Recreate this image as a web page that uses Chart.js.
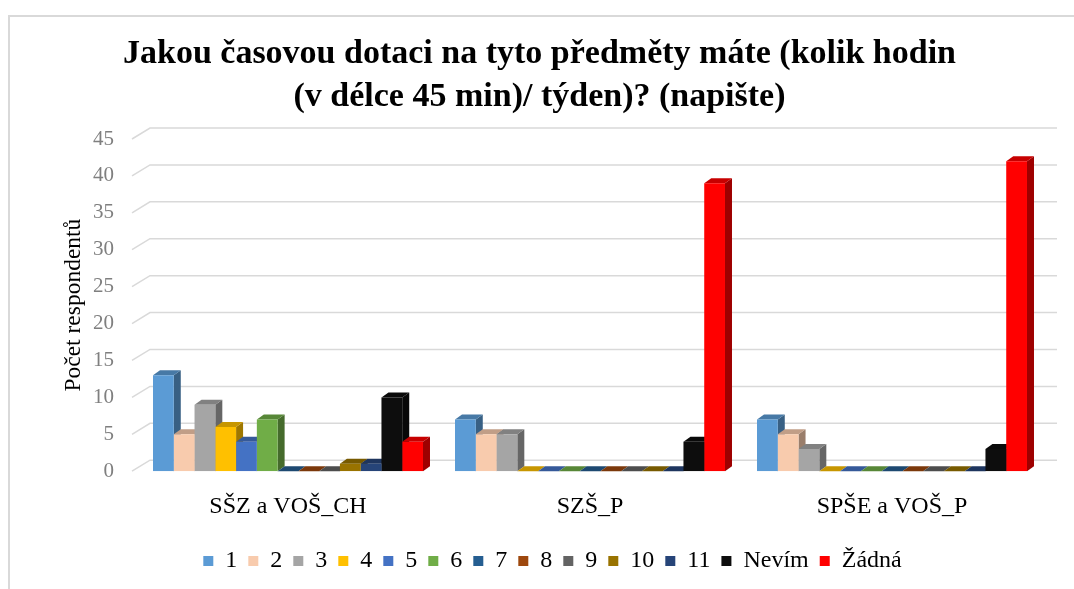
<!DOCTYPE html>
<html>
<head>
<meta charset="utf-8">
<script src="https://cdn.jsdelivr.net/npm/chart.js@4/dist/chart.umd.min.js"></script>
<style>
html,body{margin:0;padding:0;background:#fff;}
#wrap{width:1074px;height:589px;position:relative;}
</style>
</head>
<body>
<div id="wrap"><canvas id="c" width="1074" height="589"></canvas></div>
<script>
const categories = ['SŠZ a VOŠ_CH', 'SZŠ_P', 'SPŠE a VOŠ_P'];
const seriesNames = ['1','2','3','4','5','6','7','8','9','10','11','Nevím','Žádná'];
const s1 = [13, 7, 7];
const s2 = [5, 5, 5];
const s3 = [9, 5, 3];
const s4 = [6, 0, 0];
const s5 = [4, 0, 0];
const s6 = [7, 0, 0];
const s7 = [0, 0, 0];
const s8 = [0, 0, 0];
const s9 = [0, 0, 0];
const s10 = [1, 0, 0];
const s11 = [1, 0, 0];
const sNevim = [10, 4, 3];
const sZadna = [4, 39, 42];
const yTicks = [0, 5, 10, 15, 20, 25, 30, 35, 40, 45];
const titleLines = ['Jakou časovou dotaci na tyto předměty máte (kolik hodin', '(v délce 45 min)/ týden)? (napište)'];
const yTitle = 'Počet respondentů';

const seriesValues = [s1,s2,s3,s4,s5,s6,s7,s8,s9,s10,s11,sNevim,sZadna];
const colors = ['#5B9BD5','#F8CBAD','#A5A5A5','#FFC000','#4472C4','#70AD47','#255E91','#9E480E','#636363','#997300','#264478','#0D0D0D','#FF0000'];
const SERIF = '"Liberation Serif", "Times New Roman", serif';

function shade(hex, f){
  const n = parseInt(hex.slice(1),16);
  const r = Math.round(((n>>16)&255)*f), g = Math.round(((n>>8)&255)*f), b = Math.round((n&255)*f);
  return 'rgb('+r+','+g+','+b+')';
}

const BDX = 7, BDY = 5;     // bar depth
const WDX = 14, WDY = 11;   // back wall offset

const threeD = {
  id: 'threeD',
  afterLayout(chart){
    if (chart.titleBlock) { chart.titleBlock.left += 18; chart.titleBlock.right += 18; }
    if (chart.legend) { chart.legend.left += 31; chart.legend.right += 31; chart.legend.top -= 4; chart.legend.bottom -= 4; }
  },
  beforeDraw(chart){
    const ctx = chart.ctx;
    ctx.save();
    ctx.strokeStyle = '#d9d9d9';
    ctx.lineWidth = 2;
    ctx.beginPath();
    ctx.moveTo(9, 589); ctx.lineTo(9, 16); ctx.lineTo(1074, 16);
    ctx.stroke();
    ctx.restore();
  },
  beforeDatasetsDraw(chart){
    const ctx = chart.ctx;
    const y = chart.scales.y, a = chart.chartArea;
    ctx.save();
    ctx.strokeStyle = '#d9d9d9';
    ctx.lineWidth = 1.5;
    yTicks.forEach(t => {
      const py = y.getPixelForValue(t);
      ctx.beginPath();
      ctx.moveTo(a.left - 5, py);
      ctx.lineTo(a.left + WDX - 1, py - WDY);
      ctx.lineTo(a.right + WDX, py - WDY);
      ctx.stroke();
    });
    const metas = chart.data.datasets.map((d,i)=>chart.getDatasetMeta(i));
    for (let c = 0; c < categories.length; c++) {
      metas.forEach((m, di) => {
        const el = m.data[c];
        const w = el.width, l = el.x - w/2, r = el.x + w/2, top = el.y, base = el.base;
        const col = colors[di];
        ctx.fillStyle = shade(col, 0.62);
        ctx.beginPath();
        ctx.moveTo(r, top); ctx.lineTo(r + BDX, top - BDY); ctx.lineTo(r + BDX, base - BDY); ctx.lineTo(r, base);
        ctx.closePath(); ctx.fill();
        ctx.fillStyle = shade(col, 0.78);
        ctx.beginPath();
        ctx.moveTo(l, top); ctx.lineTo(l + BDX, top - BDY); ctx.lineTo(r + BDX, top - BDY); ctx.lineTo(r, top);
        ctx.closePath(); ctx.fill();
      });
    }
    ctx.restore();
  }
};

const datasets = seriesNames.map((name, i) => ({
  label: name,
  data: seriesValues[i],
  backgroundColor: colors[i],
  borderWidth: 0,
  barPercentage: 1.0,
  categoryPercentage: 0.894
}));

new Chart(document.getElementById('c'), {
  type: 'bar',
  data: { labels: categories, datasets },
  plugins: [threeD],
  options: {
    responsive: false,
    animation: false,
    devicePixelRatio: 1,
    layout: { padding: { left: 0, right: 31, top: 0, bottom: 2 } },
    plugins: {
      title: {
        display: true,
        text: titleLines,
        color: '#000',
        font: { family: SERIF, size: 34, weight: 'bold', lineHeight: 1.25 },
        padding: { top: 33, bottom: 21 }
      },
      legend: {
        position: 'bottom',
        labels: {
          color: '#000',
          font: { family: SERIF, size: 24 },
          boxWidth: 10, boxHeight: 10, padding: 11
        }
      },
      tooltip: { enabled: false }
    },
    scales: {
      x: {
        grid: { display: false, drawTicks: false },
        border: { display: false },
        ticks: { color: '#000', padding: 21, font: { family: SERIF, size: 24 } }
      },
      y: {
        min: 0, max: 45,
        afterFit(s){ s.width = 137; },
        afterBuildTicks(s){ s.ticks = yTicks.map(v => ({ value: v })); },
        grid: { display: false, drawTicks: false },
        border: { display: false },
        ticks: { color: '#7f7f7f', padding: 23, font: { family: SERIF, size: 21 } },
        title: {
          display: true, text: yTitle, color: '#000',
          font: { family: SERIF, size: 23.5 },
          padding: { top: 60, bottom: 0 }
        }
      }
    }
  }
});
</script>
</body>
</html>
